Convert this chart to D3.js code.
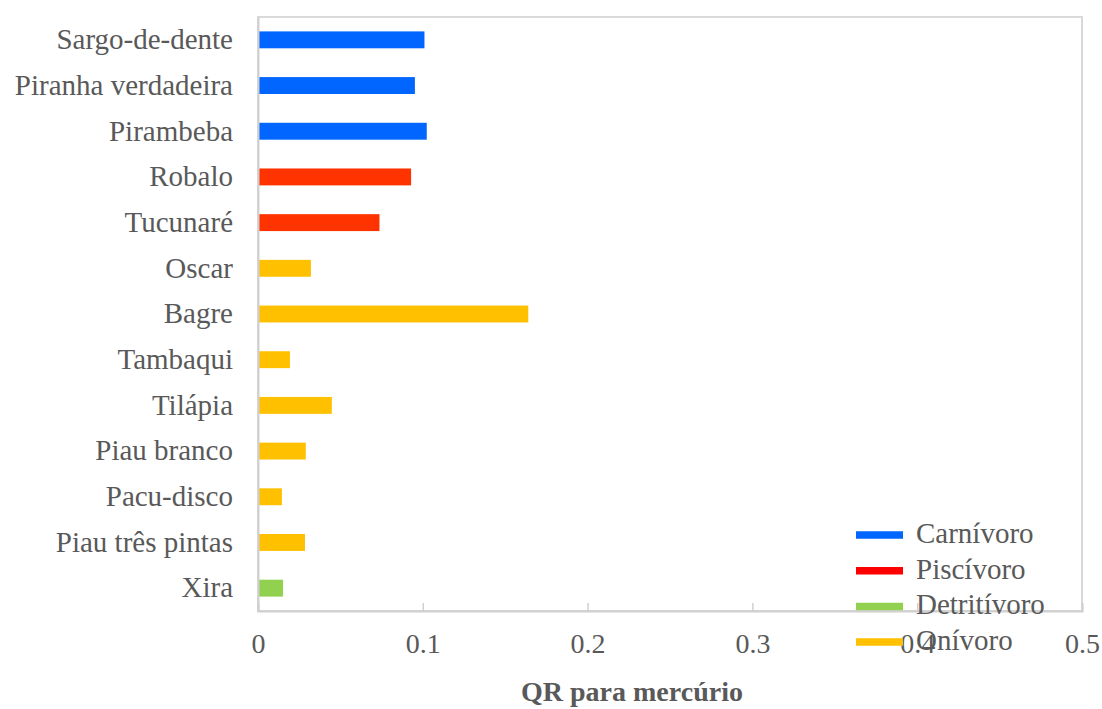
<!DOCTYPE html>
<html>
<head>
<meta charset="utf-8">
<script src="https://cdn.jsdelivr.net/npm/d3@7"></script>
<style>
  body { margin: 0; background: #fff; }
  text { font-family: "Liberation Serif", "Times New Roman", serif; fill: #595959; }
</style>
</head>
<body>
<svg id="chart" width="1102" height="709"></svg>
<script>
const species = ['Sargo-de-dente', 'Piranha verdadeira', 'Pirambeba', 'Robalo', 'Tucunaré', 'Oscar', 'Bagre', 'Tambaqui', 'Tilápia', 'Piau branco', 'Pacu-disco', 'Piau três pintas', 'Xira'];
const qr = [0.101, 0.0952, 0.1024, 0.0929, 0.0737, 0.0321, 0.164, 0.0194, 0.0448, 0.029, 0.0145, 0.0285, 0.0152];
const habit = ['Carnívoro', 'Carnívoro', 'Carnívoro', 'Piscívoro', 'Piscívoro', 'Onívoro', 'Onívoro', 'Onívoro', 'Onívoro', 'Onívoro', 'Onívoro', 'Onívoro', 'Detritívoro'];
const legendKeys = ['Carnívoro', 'Piscívoro', 'Detritívoro', 'Onívoro'];
const xTicks = [0, 0.1, 0.2, 0.3, 0.4, 0.5];

const svg = d3.select('#chart');
const margin = { top: 17, right: 20, bottom: 98, left: 258 };
const innerWidth = 1082 - margin.left;
const innerHeight = 611 - margin.top;

const barColor = { 'Carnívoro': '#0066FF', 'Piscívoro': '#FF3300', 'Detritívoro': '#92D050', 'Onívoro': '#FFC000' };
const legendColor = { 'Carnívoro': '#0066FF', 'Piscívoro': '#FF0000', 'Detritívoro': '#92D050', 'Onívoro': '#FFC000' };

const g = svg.append('g')
    .attr('transform', `translate(${margin.left},${margin.top})`);

const x = d3.scaleLinear().domain([0, 0.5]).range([0, innerWidth]);
const y = d3.scaleBand().domain(species).range([0, innerHeight]).paddingInner(0.63).paddingOuter(0.315);

// plot border
g.append('rect')
    .attr('width', innerWidth).attr('height', innerHeight)
    .attr('fill', 'none').attr('stroke', '#d9d9d9').attr('stroke-width', 2);

// bars
g.selectAll('.bar')
    .data(species)
    .enter()
    .append('rect')
    .attr('x', x(0) + 1)
    .attr('y', d => y(d))
    .attr('height', y.bandwidth())
    .attr('width', (d, i) => x(qr[i]) - x(0) - 1)
    .attr('fill', (d, i) => barColor[habit[i]]);

// x axis, ticks pointing inside
const xAxis = g.append('g')
    .attr('transform', `translate(0,${innerHeight})`)
    .call(d3.axisBottom(x).tickValues(xTicks).tickSize(-8).tickPadding(22).tickFormat(d => d));
xAxis.select('.domain').attr('stroke', '#d0d0d0').attr('stroke-width', 2);
xAxis.selectAll('.tick line').attr('stroke', '#d0d0d0').attr('stroke-width', 1.5);
xAxis.selectAll('text').style('font-size', '28px').attr('fill', '#595959')
    .style('font-family', '"Liberation Serif", "Times New Roman", serif');

// y axis labels
const yAxis = g.append('g')
    .call(d3.axisLeft(y).tickSize(0).tickPadding(25));
yAxis.select('.domain').attr('stroke', '#d0d0d0').attr('stroke-width', 2);
yAxis.selectAll('text').style('font-size', '29px').attr('fill', '#595959')
    .style('font-family', '"Liberation Serif", "Times New Roman", serif');

// axis title
svg.append('text')
    .attr('x', 632).attr('y', 701)
    .attr('text-anchor', 'middle')
    .style('font-size', '28px').style('font-weight', 'bold')
    .text('QR para mercúrio');

// legend
const legend = svg.append('g').attr('transform', 'translate(856,535)');
legendKeys.forEach((k, i) => {
    legend.append('line')
        .attr('x1', 0).attr('x2', 47)
        .attr('y1', i * 35.7).attr('y2', i * 35.7)
        .attr('stroke', legendColor[k]).attr('stroke-width', 7.5);
    legend.append('text')
        .attr('x', 60).attr('y', i * 35.7 + 8)
        .style('font-size', '29px')
        .text(k);
});
</script>
</body>
</html>
